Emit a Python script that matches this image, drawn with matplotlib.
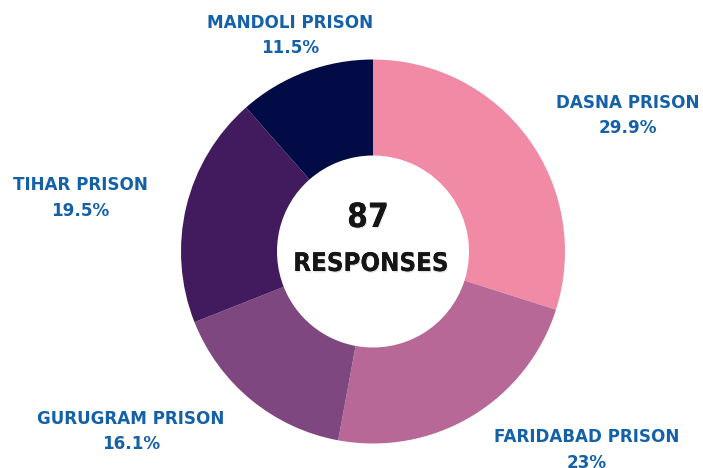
import matplotlib
matplotlib.use("Agg")
import matplotlib.pyplot as plt
import matplotlib.patheffects as pe
from matplotlib import font_manager as fm

# ---- data ----
categories = ["DASNA PRISON", "FARIDABAD PRISON", "GURUGRAM PRISON", "TIHAR PRISON", "MANDOLI PRISON"]
percents = [29.9, 23.0, 16.1, 19.5, 11.5]
pct_labels = ["29.9%", "23%", "16.1%", "19.5%", "11.5%"]
total_responses = 87
center_label = "RESPONSES"

# ---- style / layout ----
colors = ["#F08AA5", "#B86896", "#7E4780", "#421B5E", "#020B46"]
label_color = "#1461A8"
W, H = 703, 468
center = (373, H - 251.5)
outer_r = 192
ring_w = 96
label_pos = [(628, 103), (587, 437.5), (131, 419), (80, 185.5), (290, 23)]
line_gap = 25

# find a condensed bold font if one is installed
cond = None
for f in fm.fontManager.ttflist:
    nm = f.name.lower()
    st = str(f.stretch).lower()
    fname = f.fname.lower()
    isbold = (f.weight in ("bold", "heavy", "black", "extra bold", "semibold", "demibold")
              or (isinstance(f.weight, int) and f.weight >= 600))
    if isbold and ("narrow" in nm or "condensed" in nm or "condensed" in st
                   or "condensed" in fname or "narrow" in fname):
        cond = f.fname
        break

fig = plt.figure(figsize=(W / 100, H / 100), dpi=100)
ax = fig.add_axes([0, 0, 1, 1])
ax.pie(percents, colors=colors, startangle=90, counterclock=False,
       radius=outer_r, center=center,
       wedgeprops=dict(width=ring_w, linewidth=0, antialiased=True))
ax.set_xlim(0, W)
ax.set_ylim(0, H)
ax.set_aspect("equal")
ax.axis("off")

lab_font = dict(family="DejaVu Sans", weight="bold", size=12.1, color=label_color,
                ha="center", va="center")
for (x, y), cat, pl in zip(label_pos, categories, pct_labels):
    ax.text(x, H - y, cat, **lab_font)
    ax.text(x, H - y - line_gap, pl, **lab_font)

shadow = [pe.withSimplePatchShadow(offset=(0.6, -1.0), shadow_rgbFace="#000000", alpha=0.12),
          pe.Normal()]
if cond is not None:
    fp_big = fm.FontProperties(fname=cond, size=24)
    fp_small = fm.FontProperties(fname=cond, size=18.5)
else:
    fp_big = fm.FontProperties(family="Liberation Sans", weight="bold", size=22)
    fp_small = fm.FontProperties(family="Liberation Sans", weight="bold", size=16.5)
ax.text(368, H - 217.5, str(total_responses), fontproperties=fp_big,
        color="#151515", ha="center", va="center", path_effects=shadow)
ax.text(371, H - 264, center_label, fontproperties=fp_small,
        color="#151515", ha="center", va="center", path_effects=shadow)

fig.savefig("out.png", dpi=100, facecolor="white")
